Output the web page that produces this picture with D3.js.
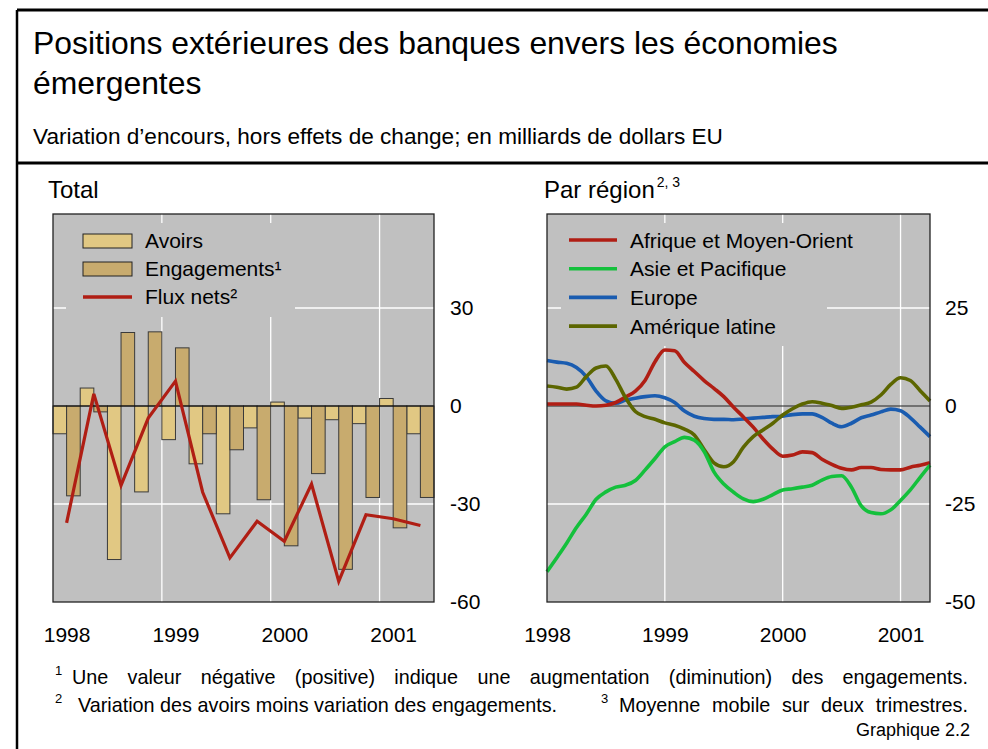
<!DOCTYPE html>
<html>
<head>
<meta charset="utf-8">
<script src="https://cdn.jsdelivr.net/npm/d3@7"></script>
<style>
  body { margin: 0; background: #fff; }
  svg { display: block; }
  text { font-family: "Liberation Sans", Arial, sans-serif; fill: #000; }
</style>
</head>
<body>
<svg id="chart" width="988" height="749"></svg>
<script>
/* DATA */
const quarters = ["1998T1","1998T2","1998T3","1998T4","1999T1","1999T2","1999T3","1999T4",
  "2000T1","2000T2","2000T3","2000T4","2001T1","2001T2"];
const avoirs      = [-8.5, 5.5, -47, -26.3, -10.3, -17.7, -33, -6.7, 1.2, -3.7, -4.2, -5.4, 2.3, -8.5];
const engagements = [-27.5, -1.8, 22.5, 22.7, 17.8, -8.5, -13.4, -28.7, -42.8, -20.7, -50, -28, -37.3, -28];
const fluxNets    = [-35.8, 3.7, -24.3, -3.7, 7.6, -26.4, -46.5, -35.3, -41.4, -23.9, -53.7, -33.3, -34.5, -36.6];

const months = ["1998-01","1998-02","1998-03","1998-04","1998-05","1998-06","1998-07","1998-08","1998-09","1998-10","1998-11","1998-12",
  "1999-01","1999-02","1999-03","1999-04","1999-05","1999-06","1999-07","1999-08","1999-09","1999-10","1999-11","1999-12",
  "2000-01","2000-02","2000-03","2000-04","2000-05","2000-06","2000-07","2000-08","2000-09","2000-10","2000-11","2000-12",
  "2001-01","2001-02","2001-03","2001-04"];
const afrique = [0.5,0.5,0.5,0.5,0.2,0,0.2,0.9,2.3,3.8, 6.6,11.3,14.3,14.1,11.1,8.8,6.5,4.5,2.4,-0.3,
  -2.8,-5.4,-8.4,-11.0,-12.8,-12.5,-11.7,-11.9,-13.6,-14.9, -15.9,-16.3,-15.7,-15.7,-16.2,-16.3,-16.3,-15.6,-15.1,-14.5];
const asie = [-42.3,-38.7,-35.0,-31.0,-27.6,-23.8,-21.9,-20.7,-20.2,-19.0, -16.3,-13.4,-10.4,-9.1,-8.0,-8.7,-11.6,-16.8,-19.9,-22.0,
  -23.7,-24.4,-23.8,-22.6,-21.4,-21.1,-20.7,-20.2,-18.9,-18.0, -17.8,-20.7,-25.5,-27.2,-27.5,-26.5,-24.1,-21.4,-18.2,-15.1];
const europe = [11.6,11.2,10.9,9.8,7.5,3.8,1.3,0.7,1.5,2.0, 2.4,2.6,2.1,0.9,-1.3,-2.6,-3.2,-3.4,-3.4,-3.5,
  -3.3,-3.1,-2.9,-2.7,-2.6,-2.2,-2.0,-2.0,-2.9,-4.4, -5.3,-4.4,-3.0,-2.3,-1.5,-0.8,-1.2,-3.0,-5.4,-7.8];
const latine = [5.1,4.8,4.3,4.8,7.5,9.7,10.2,6.8,2.1,-1.4, -2.7,-3.4,-4.3,-4.9,-5.9,-7.4,-11.1,-14.5,-15.5,-14.2,
  -10.5,-7.8,-6.1,-4.4,-2.3,-0.7,0.5,1.1,0.7,0.1, -0.6,-0.3,0.3,1.0,2.8,5.5,7.2,6.5,3.9,1.3];

const years = [1998, 1999, 2000, 2001];
const leftTicks = [30, 0, -30, -60];
const rightTicks = [25, 0, -25, -50];
const regionNames = ["Afrique et Moyen-Orient", "Asie et Pacifique", "Europe", "Amérique latine"];

const colors = { avoirs: "#e1c883", engag: "#c8ab6e", flux: "#b01e14",
  afrique: "#b01e14", asie: "#14c03c", europe: "#1a5cb0", latine: "#5c6600", plot: "#c0c0c0" };

/* helpers */
const qYear = s => +s.slice(0, 4) + (+s.slice(5) - 1) / 4;
const mYear = s => +s.slice(0, 4) + (+s.slice(5) - 1) / 12;
const plain = d => String(d);   // hyphen minus, like the original

// spread the words of a text so that it fills [x0, x1]
function justify(sel, x0, x1) {
  const node = sel.node();
  const w = node.getComputedTextLength();
  const gaps = (sel.text().match(/ /g) || []).length;
  sel.attr("x", x0).style("word-spacing", ((x1 - x0 - w) / gaps) + "px");
}

const svg = d3.select("#chart");

/* FRAME + HEADER */
svg.append("line").attr("x1", 17).attr("x2", 988).attr("y1", 10).attr("y2", 10)
  .attr("stroke", "#000").attr("stroke-width", 3);
svg.append("line").attr("x1", 17).attr("x2", 988).attr("y1", 163).attr("y2", 163)
  .attr("stroke", "#000").attr("stroke-width", 3);
svg.append("line").attr("x1", 17).attr("x2", 17).attr("y1", 10).attr("y2", 749)
  .attr("stroke", "#000").attr("stroke-width", 2.5);

svg.append("text").attr("x", 33).attr("y", 54).style("font-size", "31.9px")
  .text("Positions extérieures des banques envers les économies");
svg.append("text").attr("x", 33).attr("y", 94).style("font-size", "31.9px").text("émergentes");
svg.append("text").attr("x", 33).attr("y", 144).style("font-size", "22.6px")
  .text("Variation d’encours, hors effets de change; en milliards de dollars EU");

/* LEFT PANEL : Total */
const xL = d3.scaleLinear().domain([1998, 2001.5]).range([53, 434]);
const yL = d3.scaleLinear().domain([-60, 60]).range([602, 210]);
const gL = svg.append("g");

svg.append("text").attr("x", 48).attr("y", 198).style("font-size", "24px").text("Total");

gL.append("rect").attr("x", 53).attr("y", 214).attr("width", 381).attr("height", 388)
  .attr("fill", colors.plot);

gL.selectAll(".vgrid").data(years.slice(1)).enter().append("line")
  .attr("x1", d => xL(d)).attr("x2", d => xL(d)).attr("y1", 214).attr("y2", 602)
  .attr("stroke", "#fff").attr("stroke-width", 1.3);
gL.selectAll(".hgrid").data([30, -30]).enter().append("line")
  .attr("x1", 53).attr("x2", 434).attr("y1", d => yL(d)).attr("y2", d => yL(d))
  .attr("stroke", "#fff").attr("stroke-width", 1.3);

// legend background hides grid
gL.append("rect").attr("x", 66).attr("y", 223).attr("width", 229).attr("height", 94).attr("fill", colors.plot);

const barData = quarters.map((q, i) => ({ t: qYear(q), a: avoirs[i], e: engagements[i], f: fluxNets[i] }));

gL.selectAll(".bA").data(barData).enter().append("rect")
  .attr("x", d => xL(d.t)).attr("width", d => xL(d.t + 0.125) - xL(d.t))
  .attr("y", d => yL(Math.max(0, d.a))).attr("height", d => Math.abs(yL(d.a) - yL(0)))
  .attr("fill", colors.avoirs).attr("stroke", "#3a3a3a").attr("stroke-width", 1);
gL.selectAll(".bE").data(barData).enter().append("rect")
  .attr("x", d => xL(d.t + 0.125)).attr("width", d => xL(d.t + 0.25) - xL(d.t + 0.125))
  .attr("y", d => yL(Math.max(0, d.e))).attr("height", d => Math.abs(yL(d.e) - yL(0)))
  .attr("fill", colors.engag).attr("stroke", "#3a3a3a").attr("stroke-width", 1);

gL.append("line").attr("x1", 53).attr("x2", 434).attr("y1", yL(0)).attr("y2", yL(0))
  .attr("stroke", "#000").attr("stroke-width", 1.2);

gL.append("path").datum(barData)
  .attr("d", d3.line().x(d => xL(d.t + 0.125)).y(d => yL(d.f)))
  .attr("fill", "none").attr("stroke", colors.flux).attr("stroke-width", 3.2).attr("stroke-linejoin", "miter");

gL.append("rect").attr("x", 53).attr("y", 214).attr("width", 381).attr("height", 388)
  .attr("fill", "none").attr("stroke", "#222").attr("stroke-width", 1.3);

// left legend
const legL = gL.append("g");
legL.append("rect").attr("x", 83).attr("y", 234).attr("width", 49).attr("height", 14)
  .attr("fill", colors.avoirs).attr("stroke", "#222");
legL.append("rect").attr("x", 83).attr("y", 262).attr("width", 49).attr("height", 14)
  .attr("fill", colors.engag).attr("stroke", "#222");
legL.append("line").attr("x1", 83).attr("x2", 132).attr("y1", 297).attr("y2", 297)
  .attr("stroke", colors.flux).attr("stroke-width", 3.5);
legL.selectAll("text").data(["Avoirs", "Engagements¹", "Flux nets²"]).enter().append("text")
  .attr("x", 145).attr("y", (d, i) => 248 + i * 28).style("font-size", "21px").text(d => d);

// axes
gL.append("g").attr("transform", "translate(434,0)")
  .call(d3.axisRight(yL).tickValues(leftTicks).tickFormat(plain).tickSize(0).tickPadding(16));
gL.append("g").attr("transform", "translate(0,602)")
  .call(d3.axisBottom(xL).tickValues(years.map(y => y + 0.125)).tickFormat(d => Math.floor(d)).tickSize(0).tickPadding(25));

/* RIGHT PANEL : Par région */
const xR = d3.scaleLinear().domain([1998, 2001.25]).range([547, 930]);
const yR = d3.scaleLinear().domain([-50, 50]).range([602, 210]);
const gR = svg.append("g");

const pt = svg.append("text").attr("x", 544).attr("y", 198).style("font-size", "24px").text("Par région");
pt.append("tspan").attr("dy", -11).attr("dx", 2).style("font-size", "14px").text("2, 3");

gR.append("rect").attr("x", 547).attr("y", 214).attr("width", 383).attr("height", 388)
  .attr("fill", colors.plot);
gR.selectAll(".vgrid").data(years.slice(1)).enter().append("line")
  .attr("x1", d => xR(d)).attr("x2", d => xR(d)).attr("y1", 214).attr("y2", 602)
  .attr("stroke", "#fff").attr("stroke-width", 1.3);
gR.selectAll(".hgrid").data([25, -25]).enter().append("line")
  .attr("x1", 547).attr("x2", 930).attr("y1", d => yR(d)).attr("y2", d => yR(d))
  .attr("stroke", "#fff").attr("stroke-width", 1.3);

gR.append("rect").attr("x", 561).attr("y", 223).attr("width", 266).attr("height", 123).attr("fill", colors.plot);

gR.append("line").attr("x1", 547).attr("x2", 930).attr("y1", yR(0)).attr("y2", yR(0))
  .attr("stroke", "#222").attr("stroke-width", 1.2);

const series = [
  { name: regionNames[0], values: afrique, color: colors.afrique },
  { name: regionNames[1], values: asie, color: colors.asie },
  { name: regionNames[2], values: europe, color: colors.europe },
  { name: regionNames[3], values: latine, color: colors.latine }
];
const lineR = d3.line().x((d, i) => xR(mYear(months[i]))).y(d => yR(d)).curve(d3.curveMonotoneX);

// draw order: blue, red, olive, green like the original overlaps
[2, 0, 3, 1].forEach(k => {
  gR.append("path").datum(series[k].values).attr("d", lineR)
    .attr("fill", "none").attr("stroke", series[k].color).attr("stroke-width", 3.6);
});

gR.append("rect").attr("x", 547).attr("y", 214).attr("width", 383).attr("height", 388)
  .attr("fill", "none").attr("stroke", "#222").attr("stroke-width", 1.3);

const legR = gR.append("g");
series.forEach((s, i) => {
  legR.append("line").attr("x1", 569).attr("x2", 617).attr("y1", 240 + i * 28.7).attr("y2", 240 + i * 28.7)
    .attr("stroke", s.color).attr("stroke-width", 3.6);
  legR.append("text").attr("x", 630).attr("y", 247.5 + i * 28.7).style("font-size", "21px").text(s.name);
});

gR.append("g").attr("transform", "translate(930,0)")
  .call(d3.axisRight(yR).tickValues(rightTicks).tickFormat(plain).tickSize(0).tickPadding(15));
gR.append("g").attr("transform", "translate(0,602)")
  .call(d3.axisBottom(xR).tickValues(years).tickFormat(plain).tickSize(0).tickPadding(25));

svg.selectAll(".domain").remove();
svg.selectAll(".tick text").style("font-size", "21px").attr("fill", "#000")
  .style("font-family", "'Liberation Sans', Arial, sans-serif");

/* FOOTNOTES */
svg.append("text").attr("x", 55).attr("y", 675).style("font-size", "13px").text("1");
const fn1 = svg.append("text").attr("y", 684).style("font-size", "19.8px")
  .text("Une valeur négative (positive) indique une augmentation (diminution) des engagements.");
justify(fn1, 72, 968);
svg.append("text").attr("x", 55).attr("y", 703).style("font-size", "13px").text("2");
svg.append("text").attr("x", 78).attr("y", 712).style("font-size", "19.8px")
  .text("Variation des avoirs moins variation des engagements.");
svg.append("text").attr("x", 601).attr("y", 703).style("font-size", "13px").text("3");
const fn3 = svg.append("text").attr("y", 712).style("font-size", "19.8px")
  .text("Moyenne mobile sur deux trimestres.");
justify(fn3, 619, 968);
svg.append("text").attr("x", 970).attr("y", 736).attr("text-anchor", "end").style("font-size", "18px")
  .text("Graphique 2.2");
</script>
</body>
</html>
